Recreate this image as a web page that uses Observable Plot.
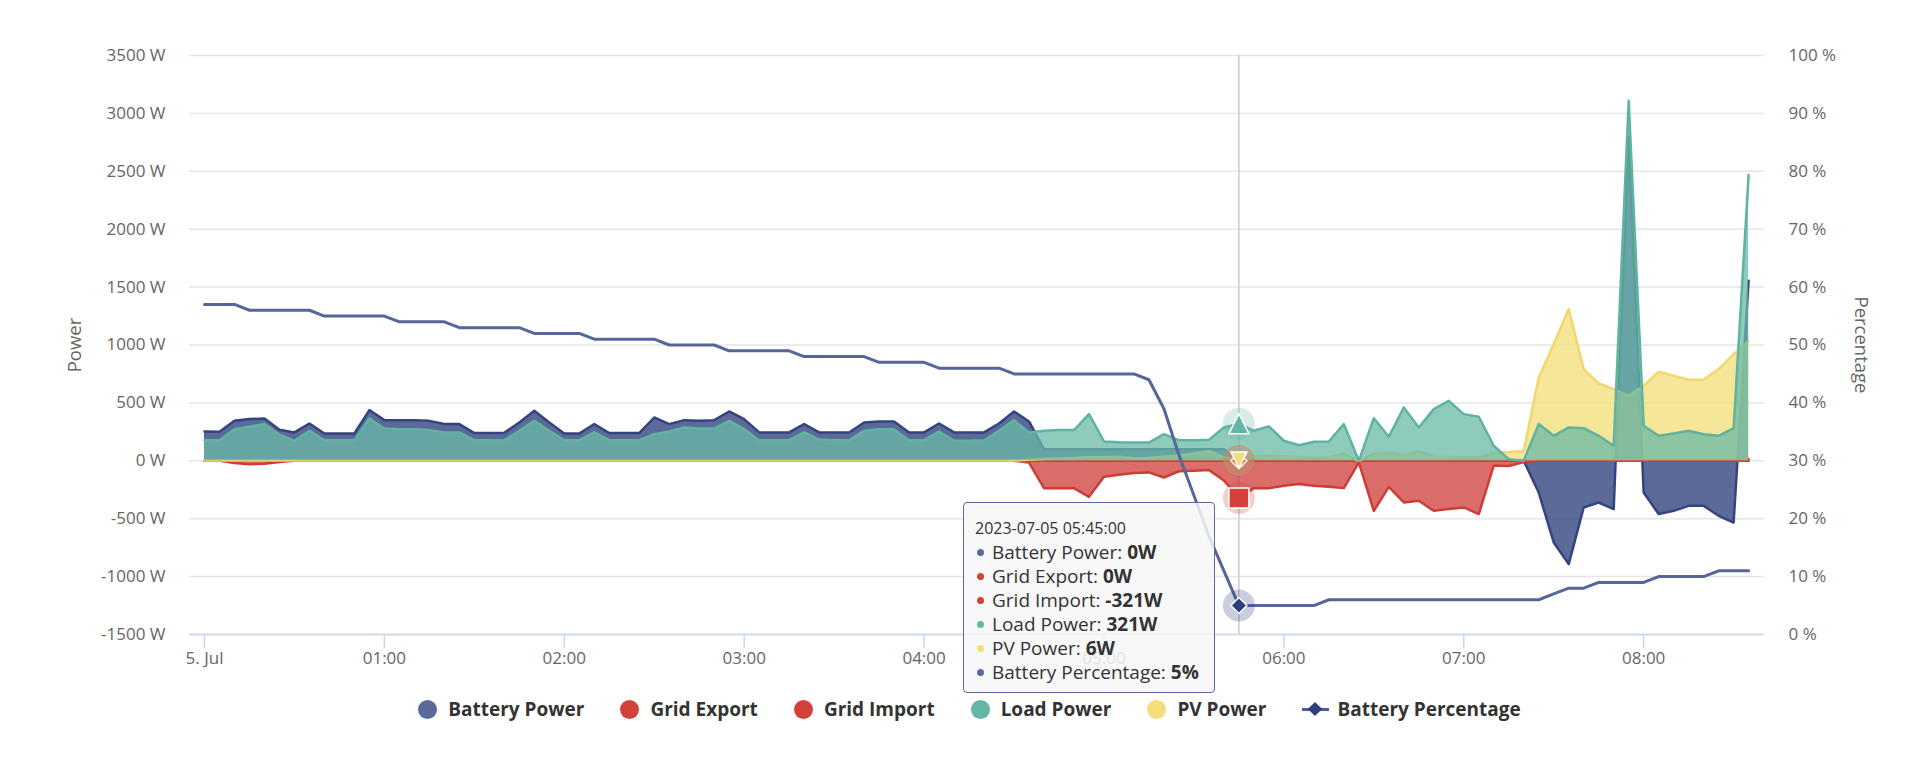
<!DOCTYPE html>
<html>
<head>
<meta charset="utf-8">
<script src="https://cdn.jsdelivr.net/npm/d3@7"></script>
<script src="https://cdn.jsdelivr.net/npm/@observablehq/plot@0.6"></script>
<style>
  body { margin: 0; background: #fff; font-family: 'Open Sans', sans-serif; }
  #wrap { position: relative; width: 1910px; height: 766px; overflow: hidden; background: #fff; }
  #chart svg { display: block; }
  #tooltip {
    position: absolute; left: 963px; top: 502px; width: 252px; height: 191px;
    box-sizing: border-box; background: rgba(247,247,247,0.85);
    border: 1.5px solid #5b6a9c; border-radius: 4px;
    padding: 13px 0 0 11px; color: #333; font-size: 19px; line-height: 24px;
  }
  #tooltip .hdr { font-size: 16px; }
  #tooltip .row { display: flex; align-items: center; white-space: nowrap; }
  #tooltip .dot { width: 7px; height: 7px; border-radius: 50%; margin: 0 8px 0 2px; flex: none; }
  #tooltip b { font-weight: 700; }
  #legend {
    position: absolute; left: 0; top: 697px; width: 1910px; height: 24px;
    box-sizing: border-box; padding-left: 29px;
    display: flex; justify-content: center; align-items: center;
    font-weight: 700; font-size: 19px; color: #333;
  }
  #legend .item { display: flex; align-items: center; margin: 0 18px; white-space: nowrap; }
  #legend .circ { width: 19px; height: 19px; border-radius: 50%; margin-right: 11px; flex: none; }
  #legend .lineSym { position: relative; width: 27px; height: 19px; margin-right: 8px; flex: none; }
  #legend .lineSym .ln { position: absolute; left: 0; top: 8px; width: 27px; height: 3px; }
  #legend .lineSym .dm { position: absolute; left: 8px; top: 4.5px; width: 10px; height: 10px; transform: rotate(45deg); }
</style>
</head>
<body>
<div id="wrap">
  <div id="chart"></div>
  <div id="tooltip"></div>
  <div id="legend"></div>
</div>
<script>
// ---------- data (5-minute samples from 2023-07-05 00:00) ----------
const batteryPower = [
  253, 250, 345, 360, 366, 268, 245, 322, 236, 236, 236, 438, 351, 351, 351, 345, 317, 317, 239, 239,
  242, 331, 432, 331, 236, 236, 317, 239, 239, 239, 374, 317, 351, 345, 351, 426, 360, 245, 245, 245,
  317, 245, 245, 245, 331, 340, 340, 245, 245, 322, 245, 245, 245, 322, 426, 340, 100, 100, 100, 100,
  100, 100, 100, 100, 100, 100, 100, 100, 100, 0, 0, 0, 0, 0, 0, 0, 0, 0, 0, 0,
  0, 0, 0, 0, 0, 0, 0, 0, 0, -274, -705, -892, -403, -360, -417, 2800, -274, -460, -432, -389,
  -389, -475, -533, 1555
];
const gridExport = [
  0, 0, 0, 0, 0, 0, 0, 0, 0, 0, 0, 0, 0, 0, 0, 0, 0, 0, 0, 0,
  0, 0, 0, 0, 0, 0, 0, 0, 0, 0, 0, 0, 0, 0, 0, 0, 0, 0, 0, 0,
  0, 0, 0, 0, 0, 0, 0, 0, 0, 0, 0, 0, 0, 0, 0, 0, 0, 0, 0, 0,
  0, 0, 0, 0, 0, 0, 0, 0, 0, 0, 0, 0, 0, 0, 0, 0, 0, 0, 0, 0,
  0, 0, 0, 0, 0, 0, 0, 0, 0, 0, 0, 0, 0, 0, 0, 0, 0, 0, 0, 0,
  0, 0, 0, 15
];
const gridImport = [
  0, 0, -20, -30, -25, -10, 0, 0, 0, 0, 0, 0, 0, 0, 0, 0, 0, 0, 0, 0,
  0, 0, 0, 0, 0, 0, 0, 0, 0, 0, 0, 0, 0, 0, 0, 0, 0, 0, 0, 0,
  0, 0, 0, 0, 0, 0, 0, 0, 0, 0, 0, 0, 0, 0, 0, -15, -236, -236, -236, -311,
  -138, -121, -105, -100, -144, -90, -85, -80, -170, -321, -236, -236, -216, -201, -216, -225, -236, -14, -432, -225,
  -360, -345, -432, -417, -403, -460, -40, -45, -10, 0, 0, 0, 0, 0, 0, 0, 0, 0, 0, 0,
  0, 0, 0, 0
];
const loadPower = [
  178, 178, 273, 294, 317, 225, 173, 259, 178, 178, 178, 366, 279, 273, 273, 265, 245, 245, 178, 178,
  175, 259, 345, 259, 178, 178, 245, 178, 178, 178, 230, 253, 288, 279, 279, 345, 273, 178, 178, 178,
  245, 183, 178, 178, 259, 273, 273, 178, 178, 253, 173, 173, 178, 259, 351, 245, 259, 265, 265, 403,
  167, 161, 158, 158, 230, 178, 178, 181, 288, 321, 259, 297, 173, 135, 164, 167, 317, 0, 368, 207,
  461, 288, 446, 518, 403, 380, 130, 14, 0, 317, 216, 288, 282, 216, 130, 3109, 302, 216, 236, 259,
  230, 216, 282, 2467
];
const pvPower = [
  2, 2, 2, 2, 2, 2, 2, 2, 2, 2, 2, 2, 2, 2, 2, 2, 2, 2, 2, 2,
  2, 2, 2, 2, 2, 2, 2, 2, 2, 2, 2, 2, 2, 2, 2, 2, 2, 2, 2, 2,
  2, 2, 2, 2, 2, 2, 2, 2, 2, 2, 2, 2, 2, 2, 2, 10, 15, 20, 25, 30,
  30, 35, 20, 25, 35, 45, 60, 85, 30, 6, 40, 45, 40, 35, 25, 30, 60, 0, 60, 70,
  50, 80, 40, 35, 30, 30, 70, 75, 85, 720, 1008, 1310, 792, 668, 619, 561, 648, 769, 734, 700,
  700, 792, 921, 1036
];
const batteryPercentage = [
  57, 57, 57, 56, 56, 56, 56, 56, 55, 55, 55, 55, 55, 54, 54, 54, 54, 53, 53, 53,
  53, 53, 52, 52, 52, 52, 51, 51, 51, 51, 51, 50, 50, 50, 50, 49, 49, 49, 49, 49,
  48, 48, 48, 48, 48, 47, 47, 47, 47, 46, 46, 46, 46, 46, 45, 45, 45, 45, 45, 45,
  45, 45, 45, 44, 39, 31, 24, 17, 11, 5, 5, 5, 5, 5, 5, 6, 6, 6, 6, 6,
  6, 6, 6, 6, 6, 6, 6, 6, 6, 6, 7, 8, 8, 9, 9, 9, 9, 10, 10, 10,
  10, 11, 11, 11
];
const powerTicks = [-1500, -1000, -500, 0, 500, 1000, 1500, 2000, 2500, 3000, 3500];
const percentTicks = [0, 10, 20, 30, 40, 50, 60, 70, 80, 90, 100];
const xTickLabels = ["5. Jul", "01:00", "02:00", "03:00", "04:00", "05:00", "06:00", "07:00", "08:00"];
const seriesNames = ["Battery Power", "Grid Export", "Grid Import", "Load Power", "PV Power", "Battery Percentage"];
const hoverIndex = 69;

// ---------- styling ----------
const C = {
  battery: {fill: "#263877", line: "#34447f", legend: "#5b6a9b"},
  exp: {fill: "#cd3c37", line: "#cd3c37", legend: "#d3413a"},
  imp: {fill: "#cd3c37", line: "#cd3c37", legend: "#d3413a"},
  load: {fill: "#6ab9a7", line: "#5fb3a1", legend: "#64b6a4"},
  pv: {fill: "#f3dd76", line: "#f2d86c", legend: "#f5dc7c"},
  pct: {line: "#56659a", marker: "#2e3d7c", legend: "#4e5d98"}
};

const start = Date.UTC(2023, 6, 5, 0, 0, 0);
const MIN = 60000;
const rows = batteryPower.map((v, i) => ({
  time: new Date(start + i * 5 * MIN),
  battery: v, exp: gridExport[i], imp: gridImport[i], load: loadPower[i], pv: pvPower[i], pct: batteryPercentage[i]
}));
const yMin = powerTicks[0], yMax = powerTicks[powerTicks.length - 1];
const pctToY = p => yMin + p / 100 * (yMax - yMin);
const xTicks = xTickLabels.map((_, i) => new Date(start + i * 60 * MIN));

function areaSeries(key, c) {
  return [
    Plot.areaY(rows, {x: "time", y1: 0, y2: key, fill: c.fill, fillOpacity: 0.75}),
    Plot.lineY(rows, {x: "time", y: key, stroke: c.line, strokeWidth: 2.5, strokeLinejoin: "round"})
  ];
}

const sym = f => ({draw(ctx, size) { const r = Math.sqrt(size / Math.PI); f(ctx, r); }});
const squareSym = sym((c, r) => { c.moveTo(-r, -r); c.lineTo(r, -r); c.lineTo(r, r); c.lineTo(-r, r); c.closePath(); });
const triUp = sym((c, r) => { c.moveTo(0, -r); c.lineTo(r, r); c.lineTo(-r, r); c.closePath(); });
const triDown = sym((c, r) => { c.moveTo(-r, -r); c.lineTo(r, -r); c.lineTo(0, r); c.closePath(); });
const diamondSym = sym((c, r) => { c.moveTo(0, -r); c.lineTo(r, 0); c.lineTo(0, r); c.lineTo(-r, 0); c.closePath(); });

const hover = [rows[hoverIndex]];
function hoverMarker(yAcc, color, symbol, r) {
  return [
    Plot.dot(hover, {x: "time", y: yAcc, r: 16, fill: color, fillOpacity: 0.25, stroke: null}),
    Plot.dot(hover, {x: "time", y: yAcc, r, symbol, fill: color, stroke: "white", strokeWidth: 1.5})
  ];
}

const chart = Plot.plot({
  width: 1910,
  height: 690,
  marginLeft: 189,
  marginRight: 146,
  marginTop: 55,
  marginBottom: 56,
  style: {fontFamily: "'Open Sans', sans-serif", fontSize: "17px", color: "#666", background: "white", overflow: "visible"},
  x: {type: "utc", domain: [new Date(start - 5 * MIN), new Date(start + 520.3 * MIN)]},
  y: {domain: [yMin, yMax]},
  marks: [
    Plot.gridY(powerTicks, {stroke: "#e6e6e6", strokeOpacity: 1, strokeWidth: 1.5}),
    Plot.ruleX([rows[hoverIndex].time], {stroke: "#cccccc", strokeWidth: 1.5}),
    ...areaSeries("battery", C.battery),
    ...areaSeries("exp", C.exp),
    ...areaSeries("imp", C.imp),
    ...areaSeries("pv", C.pv),
    ...areaSeries("load", C.load),
    Plot.lineY(rows, {x: "time", y: d => pctToY(d.pct), stroke: C.pct.line, strokeWidth: 3, strokeLinejoin: "round"}),
    Plot.ruleY([yMin], {stroke: "#ccd6eb", strokeWidth: 1.5}),
    ...hoverMarker("battery", C.battery.legend, "circle", 6),
    ...hoverMarker("exp", C.exp.legend, diamondSym, 8),
    ...hoverMarker("imp", C.imp.legend, squareSym, 10),
    ...hoverMarker("load", C.load.legend, triUp, 10),
    ...hoverMarker("pv", C.pv.legend, triDown, 8),
    ...hoverMarker(d => pctToY(d.pct), C.pct.marker, diamondSym, 8),
    Plot.axisY(powerTicks, {anchor: "left", tickSize: 0, tickPadding: 24, tickFormat: d => `${d} W`, label: null, fill: "#666"}),
    Plot.axisY(percentTicks.map(pctToY), {anchor: "right", tickSize: 0, tickPadding: 24,
      tickFormat: d => `${Math.round((d - yMin) / (yMax - yMin) * 100)} %`, label: null, fill: "#666"}),
    Plot.axisX(xTicks, {anchor: "bottom", tickSize: 14, tickPadding: 3, stroke: "#ccd6eb", strokeWidth: 1.5, fill: "#666",
      tickFormat: d => xTickLabels[Math.round((d - start) / (60 * MIN))], label: null}),
    Plot.text(["Power"], {frameAnchor: "left", dx: -114, rotate: -90, textAnchor: "middle", lineAnchor: "middle", fill: "#666", fontSize: 18.5}),
    Plot.text(["Percentage"], {frameAnchor: "right", dx: 96, rotate: 90, textAnchor: "middle", lineAnchor: "middle", fill: "#666", fontSize: 18.5})
  ]
});
document.getElementById("chart").appendChild(chart);

// ---------- tooltip ----------
const h = rows[hoverIndex];
const tipVals = [
  [seriesNames[0], `${h.battery}W`, C.battery.legend],
  [seriesNames[1], `${h.exp}W`, C.exp.legend],
  [seriesNames[2], `${h.imp}W`, C.imp.legend],
  [seriesNames[3], `${h.load}W`, C.load.legend],
  [seriesNames[4], `${h.pv}W`, C.pv.legend],
  [seriesNames[5], `${h.pct}%`, C.battery.legend]
];
const tip = document.getElementById("tooltip");
const hdr = document.createElement("div");
hdr.className = "hdr";
hdr.textContent = d3.utcFormat("%Y-%m-%d %H:%M:%S")(h.time);
tip.appendChild(hdr);
for (const [name, val, col] of tipVals) {
  const r = document.createElement("div");
  r.className = "row";
  r.innerHTML = `<span class="dot" style="background:${col}"></span><span>${name}: <b>${val}</b></span>`;
  tip.appendChild(r);
}

// ---------- legend ----------
const legend = document.getElementById("legend");
const legendColors = [C.battery.legend, C.exp.legend, C.imp.legend, C.load.legend, C.pv.legend];
seriesNames.forEach((name, i) => {
  const it = document.createElement("div");
  it.className = "item";
  if (i < 5) {
    it.innerHTML = `<span class="circ" style="background:${legendColors[i]}"></span><span>${name}</span>`;
  } else {
    it.innerHTML = `<span class="lineSym"><span class="ln" style="background:${C.pct.legend}"></span><span class="dm" style="background:${C.pct.marker}"></span></span><span>${name}</span>`;
  }
  legend.appendChild(it);
});
</script>
</body>
</html>
